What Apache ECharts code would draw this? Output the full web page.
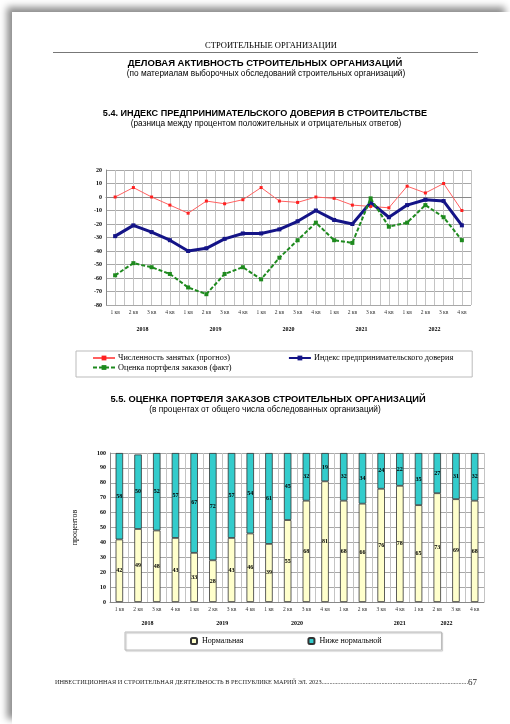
<!DOCTYPE html>
<html>
<head>
<meta charset="utf-8">
<script src="https://cdn.jsdelivr.net/npm/echarts@6/dist/echarts.min.js"></script>
<style>
  html, body { margin: 0; padding: 0; background: #fff; }
  .page {
    position: absolute; left: 12px; top: 12px; width: 498px; height: 712px;
    background: #fff; box-shadow: -5px -5px 7px rgba(0, 0, 0, 0.45);
  }
  #chart { position: absolute; left: 0; top: 0; width: 510px; height: 724px; }
</style>
</head>
<body>
<div class="page"></div>
<div id="chart"></div>
<script>
const quarters = ['1 кв', '2 кв', '3 кв', '4 кв', '1 кв', '2 кв', '3 кв', '4 кв', '1 кв', '2 кв',
  '3 кв', '4 кв', '1 кв', '2 кв', '3 кв', '4 кв', '1 кв', '2 кв', '3 кв', '4 кв']
const years = ['2018', '2019', '2020', '2021', '2022']

// 5.4 индекс предпринимательского доверия
const employment = [0, 7, 0, -6, -12, -3, -5, -2, 7, -3, -4, 0, -1, -6, -7, -8, 8, 3, 10, -10]
const confidence = [-29, -21, -26, -32, -40, -38, -31, -27, -27, -24, -18, -10, -17, -20, -4, -15, -6, -2, -3, -21]
const orders = [-58, -49, -52, -57, -67, -72, -57, -52, -61, -45, -32, -19, -32, -34, -1, -22, -19, -6, -15, -32]

// 5.5 оценка портфеля заказов
const normal = [42, 49, 48, 43, 33, 28, 43, 46, 39, 55, 68, 81, 68, 66, 76, 78, 65, 73, 69, 68]
const belowNormal = [58, 50, 52, 57, 67, 72, 57, 54, 61, 45, 32, 19, 32, 34, 24, 22, 35, 27, 31, 32]

const serif = 'Liberation Serif'
const sans = 'Liberation Sans'

const chart = echarts.init(document.getElementById('chart'))

function heading(text, x, top, size, bold, family) {
  return {
    text, left: x, top, textAlign: 'center', padding: 0,
    textStyle: { fontSize: size, fontWeight: bold ? 'bold' : 'normal', fontFamily: family || sans, color: '#000' }
  }
}

const quarterLabel = { interval: 0, fontSize: 5.5, fontFamily: serif, color: '#333', margin: 5 }
const yearLabel = { interval: 0, fontSize: 6, fontWeight: 'bold', fontFamily: serif, color: '#000' }
const valueLabel = { fontSize: 6, fontWeight: 'bold', fontFamily: serif, color: '#000', margin: 4 }
const legendText = { fontSize: 8.3, fontFamily: serif, color: '#000', padding: [0, 0, 0, -2] }

chart.setOption({
  animation: false,
  title: [
    heading('СТРОИТЕЛЬНЫЕ ОРГАНИЗАЦИИ', 271, 41, 8.5, false, serif),
    heading('ДЕЛОВАЯ АКТИВНОСТЬ СТРОИТЕЛЬНЫХ ОРГАНИЗАЦИЙ', 265, 58, 9.5, true),
    heading('(по материалам выборочных обследований строительных организаций)', 266, 69.5, 8.3, false),
    heading('5.4. ИНДЕКС ПРЕДПРИНИМАТЕЛЬСКОГО ДОВЕРИЯ В СТРОИТЕЛЬСТВЕ', 265, 108.5, 9.1, true),
    heading('(разница между процентом положительных и отрицательных ответов)', 266, 120, 8.3, false),
    heading('5.5. ОЦЕНКА ПОРТФЕЛЯ ЗАКАЗОВ СТРОИТЕЛЬНЫХ ОРГАНИЗАЦИЙ', 268, 395, 9.3, true),
    heading('(в процентах от общего числа обследованных организаций)', 265, 406, 8.3, false),
    {
      text: 'ИНВЕСТИЦИОННАЯ И СТРОИТЕЛЬНАЯ ДЕЯТЕЛЬНОСТЬ В РЕСПУБЛИКЕ МАРИЙ ЭЛ. 2023' +
        '.'.repeat(93) + '{p|67}',
      left: 55, top: 678, padding: 0,
      textStyle: {
        fontSize: 6.3, fontWeight: 'normal', fontFamily: serif, color: '#222',
        rich: { p: { fontSize: 9, fontFamily: serif, color: '#222' } }
      }
    }
  ],
  graphic: [
    { type: 'line', shape: { x1: 53, y1: 52.5, x2: 478, y2: 52.5 }, style: { stroke: '#777', lineWidth: 1 } }
  ],
  legend: [
    {
      data: ['Численность занятых (прогноз)', 'Индекс предпринимательского доверия'],
      left: 76, top: 351, padding: [3, 19, 15, 16],
      itemGap: 58, itemWidth: 22, itemHeight: 6,
      borderColor: '#bbb', borderWidth: 1,
      textStyle: legendText
    },
    {
      data: ['Оценка портфеля заказов (факт)'],
      left: 92, top: 363.5, padding: 0,
      itemWidth: 22, itemHeight: 6,
      textStyle: legendText
    },
    {
      data: ['Нормальная', 'Ниже нормальной'],
      left: 125, top: 632, width: 312, padding: [5, 60, 5, 65],
      itemGap: 64, itemWidth: 6, itemHeight: 6,
      borderColor: '#bbb', borderWidth: 1,
      shadowColor: 'rgba(0,0,0,0.25)', shadowOffsetX: 1, shadowOffsetY: 1, shadowBlur: 1,
      textStyle: { fontSize: 8, fontFamily: serif, color: '#000' }
    }
  ],
  grid: [
    { left: 106, right: 39, top: 170, height: 135 },
    { left: 110, right: 26, top: 453, height: 149 }
  ],
  xAxis: [
    {
      gridIndex: 0, type: 'category', data: quarters, boundaryGap: true,
      axisLine: { lineStyle: { color: '#888' } }, axisTick: { show: false },
      axisLabel: quarterLabel, splitLine: { show: false }
    },
    {
      gridIndex: 0, type: 'category', data: years, position: 'bottom', offset: 13,
      axisLine: { show: false }, axisTick: { show: false },
      axisLabel: yearLabel, splitLine: { show: false }
    },
    {
      gridIndex: 0, type: 'value', min: 0, max: 20, interval: 0.5, position: 'top',
      axisLine: { show: false }, axisTick: { show: false }, axisLabel: { show: false },
      splitLine: { show: true, lineStyle: { color: '#c4c4c4', width: 1 } }
    },
    {
      gridIndex: 1, type: 'category', data: quarters, boundaryGap: true,
      axisLine: { lineStyle: { color: '#888' } }, axisTick: { show: false },
      axisLabel: quarterLabel,
      splitLine: { show: true, interval: 0, lineStyle: { color: '#c4c4c4' } }
    },
    {
      gridIndex: 1, type: 'category', data: years, position: 'bottom', offset: 10,
      axisLine: { show: false }, axisTick: { show: false },
      axisLabel: {
        ...yearLabel,
        formatter: (v) => v === '2021' ? '{s|' + v + '}' : v,
        rich: { s: { fontSize: 6, fontWeight: 'bold', fontFamily: serif, color: '#000', padding: [0, 0, 0, 56] } }
      },
      splitLine: { show: false }
    }
  ],
  yAxis: [
    {
      gridIndex: 0, type: 'value', min: -80, max: 20, interval: 10,
      axisLine: { show: true, lineStyle: { color: '#888' } }, axisTick: { show: false },
      axisLabel: valueLabel,
      splitLine: { lineStyle: { color: '#a8a8a8' } }
    },
    {
      gridIndex: 1, type: 'value', min: 0, max: 100, interval: 10,
      name: 'процентов', nameLocation: 'middle', nameGap: 31, nameRotate: 90,
      nameTextStyle: { fontSize: 8, fontFamily: serif, color: '#000' },
      axisLine: { show: true, lineStyle: { color: '#888' } }, axisTick: { show: false },
      axisLabel: valueLabel,
      splitLine: { lineStyle: { color: '#a8a8a8' } }
    }
  ],
  series: [
    {
      name: 'Численность занятых (прогноз)', type: 'line', xAxisIndex: 0, yAxisIndex: 0,
      data: employment, symbol: 'rect', symbolSize: 3,
      lineStyle: { color: '#ff6060', width: 1 }, itemStyle: { color: '#ff2020' }, z: 3
    },
    {
      name: 'Индекс предпринимательского доверия', type: 'line', xAxisIndex: 0, yAxisIndex: 0,
      data: confidence, symbol: 'rect', symbolSize: 4,
      lineStyle: { color: '#141487', width: 3 }, itemStyle: { color: '#141487' }, z: 4
    },
    {
      name: 'Оценка портфеля заказов (факт)', type: 'line', xAxisIndex: 0, yAxisIndex: 0,
      data: orders, symbol: 'rect', symbolSize: 4,
      lineStyle: { color: '#1e8a1e', width: 2, type: [4, 2] }, itemStyle: { color: '#1e8a1e' }, z: 5
    },
    {
      name: 'Нормальная', type: 'bar', stack: 'p', xAxisIndex: 3, yAxisIndex: 1,
      data: normal, barWidth: 7.5,
      itemStyle: { color: '#ffffcc', borderColor: '#333', borderWidth: 0.8 },
      label: { show: true, position: 'inside', fontSize: 6, fontWeight: 'bold', fontFamily: serif, color: '#000' }
    },
    {
      name: 'Ниже нормальной', type: 'bar', stack: 'p', xAxisIndex: 3, yAxisIndex: 1,
      data: belowNormal, barWidth: 7.5,
      itemStyle: { color: '#33cccc', borderColor: '#333', borderWidth: 0.8 },
      label: { show: true, position: 'inside', fontSize: 6, fontWeight: 'bold', fontFamily: serif, color: '#000' }
    }
  ]
})
</script>
</body>
</html>
